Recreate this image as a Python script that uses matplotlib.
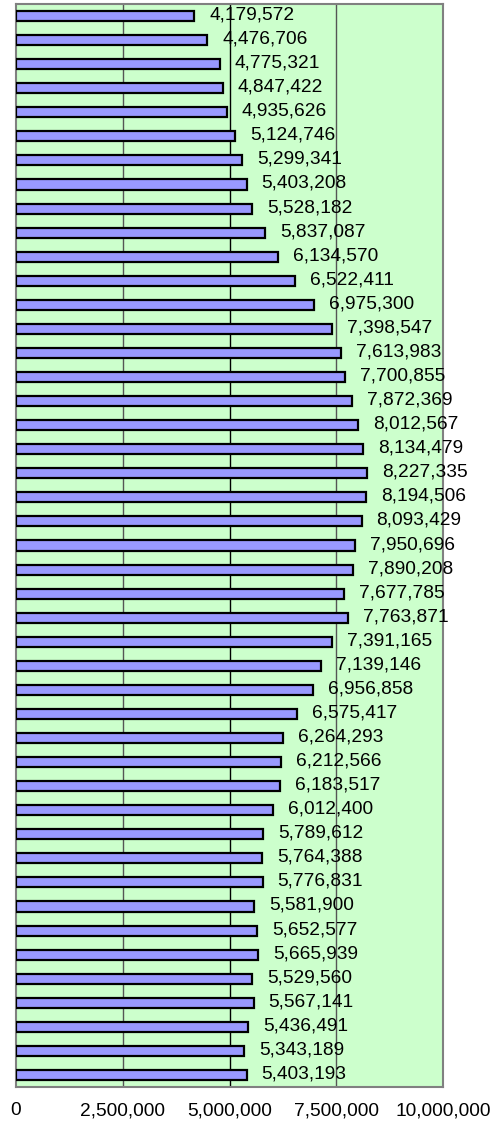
import matplotlib.pyplot as plt
from matplotlib.ticker import FuncFormatter

values = [
    4179572, 4476706, 4775321, 4847422, 4935626, 5124746, 5299341, 5403208,
    5528182, 5837087, 6134570, 6522411, 6975300, 7398547, 7613983, 7700855,
    7872369, 8012567, 8134479, 8227335, 8194506, 8093429, 7950696, 7890208,
    7677785, 7763871, 7391165, 7139146, 6956858, 6575417, 6264293, 6212566,
    6183517, 6012400, 5789612, 5764388, 5776831, 5581900, 5652577, 5665939,
    5529560, 5567141, 5436491, 5343189, 5403193,
]
xticks = [0, 2500000, 5000000, 7500000, 10000000]

plt.rcParams['font.family'] = ['Liberation Sans', 'DejaVu Sans']

fig = plt.figure(figsize=(4.91, 11.25), dpi=100)
ax = fig.add_axes([16 / 491, 1 - 1087 / 1125, 427 / 491, 1083 / 1125])
ax.set_facecolor('#CCFFCC')

pos = list(range(len(values)))
ax.barh(pos, values, height=0.42, color='#9999FF', edgecolor='black',
        linewidth=1.6, zorder=3)

for p, v in zip(pos, values):
    ax.annotate(f"{v:,}", (v, p), xytext=(15, 1), textcoords='offset pixels',
                va='center', ha='left', fontsize=13.8, zorder=4)

for x, c in zip(xticks[1:-1], ['#555555', 'black', '#555555']):
    ax.axvline(x, color=c, linewidth=1, zorder=1)

ax.set_xlim(0, 10000000)
ax.set_ylim(len(values) - 0.5, -0.5)
ax.set_xticks(xticks)
ax.xaxis.set_major_formatter(FuncFormatter(lambda x, _: f"{int(x):,}"))
ax.tick_params(axis='x', length=0, pad=11, labelsize=13.8)
ax.set_yticks([])
for s in ax.spines.values():
    s.set_color('#808080')
    s.set_linewidth(1.5)

fig.savefig("out.png", dpi=100)
